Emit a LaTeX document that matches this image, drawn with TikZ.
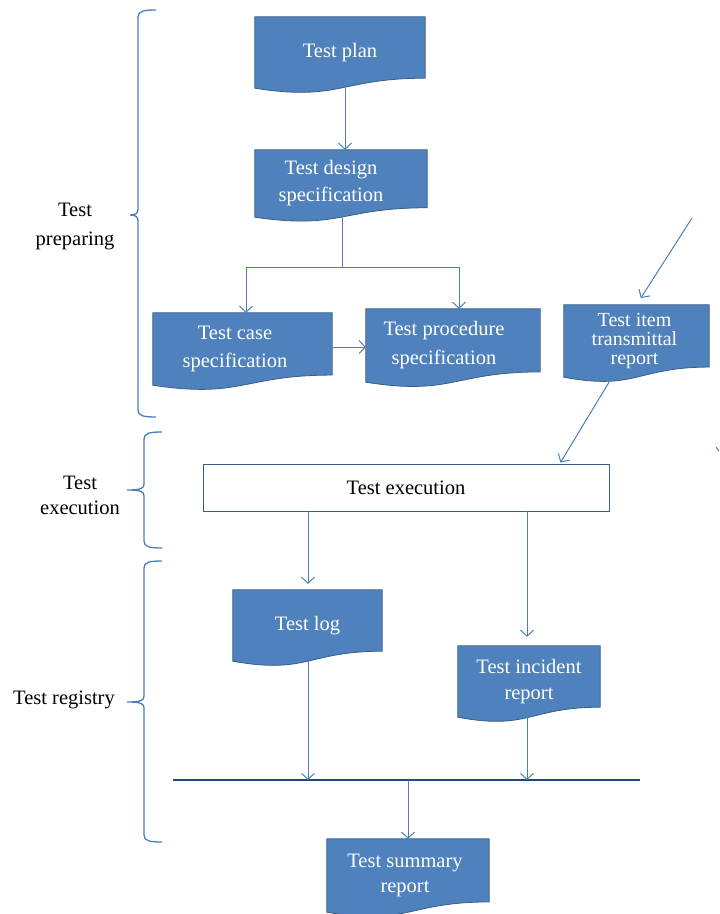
\documentclass[tikz,border=0pt]{standalone}
\usepackage{fontspec}
\setmainfont{Liberation Serif}
\usetikzlibrary{arrows.meta,calc,backgrounds}
\definecolor{docblue}{RGB}{79,129,189}
\definecolor{docedge}{RGB}{56,93,138}
\definecolor{arrowblue}{RGB}{74,126,187}
\definecolor{navy}{RGB}{31,73,125}
\newcommand\docwave[1]{%
  \path[docshape] (#1.north west) -- (#1.north east)
    -- ($(#1.north east)!0.86!(#1.south east)$)
    .. controls ($(#1.north)!0.86!(#1.south)$) and ($(#1.north)!1.187!(#1.south)$) .. (#1.south west) -- cycle;}
\newcommand\sidebrace[5]{% #1 xline, #2 xtip, #3 top, #4 tip, #5 bottom
  \draw[brace] ({#1+18},#3) .. controls ({#1+6},#3) and (#1,{#3+1}) .. (#1,{#3+7})
    -- (#1,{#4-6}) .. controls (#1,{#4-2}) and ({#1-2},#4) .. (#2,#4)
    .. controls ({#1-2},#4) and (#1,{#4+2}) .. (#1,{#4+6})
    -- (#1,{#5-7}) .. controls (#1,{#5-1}) and ({#1+6},#5) .. ({#1+18},#5);}
% shift a centred line to the left by half of #1
\newcommand\shl[1]{\hspace*{-#1}}
\begin{document}
\begin{tikzpicture}[x=1pt,y=-1pt,
  doc/.style={inner sep=0pt, text=white, align=center, font=\fontsize{20.5}{26}\selectfont},
  docshape/.style={fill=docblue, draw=docedge, line width=0.8pt},
  arr/.style={draw=arrowblue, line width=1pt, -{Straight Barb[length=6pt,width=13pt]}},
  conn/.style={draw=arrowblue, line width=1pt},
  brace/.style={draw=arrowblue, line width=1.3pt},
  hline/.style={draw=navy, line width=1.8pt},
  side/.style={align=center, font=\fontsize{20.5}{29}\selectfont}]
\useasboundingbox (0,0) rectangle (720,914);

% document nodes
\node[doc, minimum width=170pt, minimum height=71pt] (plan) at (340,52.5) {Test plan};
\node[doc, minimum width=172pt, minimum height=67pt, font=\fontsize{20.5}{27}\selectfont] (design) at (341,183.5) {\shl{20pt}Test design\\\shl{20pt}specification};
\node[doc, minimum width=179pt, minimum height=72pt, font=\fontsize{20.5}{28}\selectfont] (case) at (242.5,349) {\shl{15pt}Test case\\\shl{15pt}specification};
\node[doc, minimum width=174pt, minimum height=73pt, font=\fontsize{20.5}{29}\selectfont] (procedure) at (453,345.5) {\shl{18pt}Test procedure\\\shl{18pt}specification};
\node[doc, minimum width=145pt, minimum height=72pt, font=\fontsize{20}{19.5}\selectfont] (transmittal) at (636.5,341) {\shl{4pt}Test item\\\shl{4pt}transmittal\\\shl{4pt}report};
\node[draw=docedge, fill=white, line width=0.9pt, minimum width=406pt, minimum height=47pt, inner sep=0pt, font=\fontsize{20.5}{26}\selectfont] (exec) at (406,487.5) {Test execution};
\node[doc, minimum width=149pt, minimum height=71pt] (log) at (307.5,625.5) {Test log};
\node[doc, minimum width=142pt, minimum height=71pt] (incident) at (529,681.5) {Test incident\\report};
\node[doc, minimum width=162pt, minimum height=73pt, font=\fontsize{20.5}{25}\selectfont] (summary) at (408,875.5) {\shl{6pt}Test summary\\\shl{6pt}report};

\begin{scope}[on background layer]
  \foreach \n in {plan,design,case,procedure,transmittal,log,incident,summary} {\docwave{\n}}
\end{scope}

% side labels
\node[side] (lprep) at (75,226) {Test\\preparing};
\node[side, font=\fontsize{20.5}{25}\selectfont] (lexec) at (80,495) {Test\\execution};
\node[side] (lreg) at (64,700) {Test registry};

% braces
\sidebrace{138}{130}{10}{215}{417}
\sidebrace{144}{127}{432}{490}{548}
\sidebrace{144}{127}{561}{702}{842}

% helper coordinates
\coordinate (split) at (342,267);
\coordinate (src) at (692,218);
\coordinate (hl1) at (173,780);
\coordinate (hl2) at (640,780);
\coordinate (px) at (345,0);
\coordinate (cx) at (246,0);
\coordinate (prx) at (459,0);
\coordinate (lx) at (308,0);
\coordinate (ix) at (527,0);
\coordinate (frag1) at (716,447);
\coordinate (frag2) at (719,451);

% connectors
\draw[arr] (px |- plan.south) -- (px |- design.north);
\draw[conn] (split |- design.south) -- (split);
\draw[arr] (split) -| (cx |- case.north);
\draw[arr] (split) -| (prx |- procedure.north);
\draw[arr] ($(case.east)+(0,-2)$) -- ($(procedure.west)+(0,1.5)$);
\draw[arr, shorten >=8pt] (src) -- (transmittal.north);
\draw[arr] ($(transmittal.south)+(-27.5,5)$) -- ($(exec.north east)+(-49,-1)$);
\draw[arr, shorten >=6pt] (lx |- exec.south) -- (lx |- log.north);
\draw[arr, shorten >=9pt] (ix |- exec.south) -- (ix |- incident.north);
\draw[hline] (hl1) -- (hl2);
\draw[arr] (lx |- log.south) -- (lx |- hl1);
\draw[arr] (ix |- incident.south) -- (ix |- hl1);
\draw[arr] (summary.north |- hl1) -- (summary.north);
\draw[conn] (frag1) -- (frag2);
\end{tikzpicture}
\end{document}
